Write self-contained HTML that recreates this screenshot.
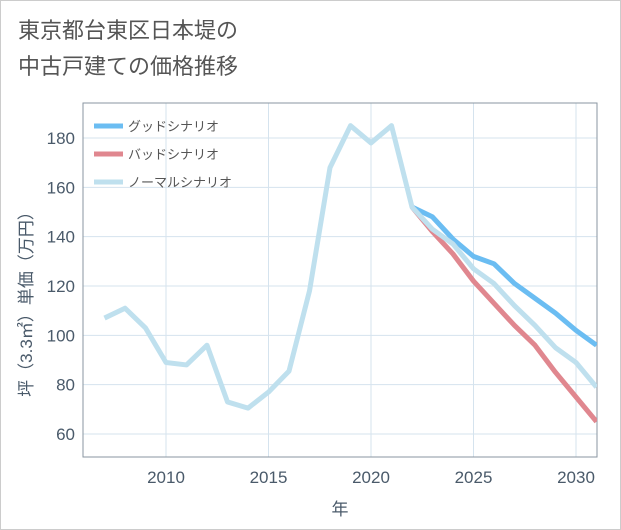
<!DOCTYPE html>
<html><head><meta charset="utf-8"><style>
body{margin:0;background:#fff;}
#w{position:relative;width:619px;height:528px;border:1px solid #ccc;background:#fff;font-family:"Liberation Sans","Noto Sans CJK JP",sans-serif;}
h1{position:absolute;left:17px;top:12px;margin:0;font-size:22px;font-weight:normal;color:#555;line-height:36px;}
</style></head><body>
<div id="w">
<h1>東京都台東区日本堤の<br>中古戸建ての価格推移</h1>
<svg id="c" width="621" height="530" style="position:absolute;left:-1px;top:-1px"></svg>
</div>
<script>
const years=[2007,2008,2009,2010,2011,2012,2013,2014,2015,2016,2017,2018,2019,2020,2021,2022,2023,2024,2025,2026,2027,2028,2029,2030,2031];
const normal=[107,111,103,89,88,96,73,70.5,77,85.5,118,168,185,178,185,152,143,137,127,121,112,104,95,89,79];
const futureYears=[2022,2023,2024,2025,2026,2027,2028,2029,2030,2031];
const good=[152,148,139,132,129,121,115,109,102,96];
const bad=[152,142,133,122,113,104,96,85,75,65];
const yTicks=[60,80,100,120,140,160,180];
const xTicks=[2010,2015,2020,2025,2030];
const L=83,R=597,T=103,B=457;
const X=y=>166+(y-2010)*20.5, Y=v=>434-(v-60)*2.4667;
const s=document.getElementById('c');const NS='http://www.w3.org/2000/svg';
function mk(t,a,p){const e=document.createElementNS(NS,t);for(const k in a)e.setAttribute(k,a[k]);(p||s).appendChild(e);return e;}
const cp=mk('clipPath',{id:'cl'});mk('rect',{x:L,y:T,width:R-L,height:B-T},cp);
yTicks.forEach(v=>{const l=mk('line',{x1:L,x2:R,y1:Y(v),y2:Y(v),stroke:'#d5e3ee','stroke-width':1});

const t=mk('text',{x:L-8,y:Y(v)+6,'text-anchor':'end','font-size':17,fill:'#4a5a6a'});t.textContent=v;
});
xTicks.forEach(v=>{const l=mk('line',{x1:X(v),x2:X(v),y1:T,y2:B,stroke:'#d5e3ee','stroke-width':1});

const t=mk('text',{x:X(v),y:B+26,'text-anchor':'middle','font-size':17,fill:'#4a5a6a'});t.textContent=v;
});
const ax=mk('path',{d:`M${L},${T}V${B}H${R}V${T}Z`,fill:'none',stroke:'#8a96a0','stroke-width':1});

function line(xs,vs,c,n){const p=mk('polyline',{points:xs.map((y,i)=>X(y)+','+Y(vs[i])).join(' '),fill:'none',stroke:c,'stroke-width':5,'stroke-linejoin':'round','clip-path':'url(#cl)'});
}
line(futureYears,bad,'#e0878f','bad-scenario-line');
line(futureYears,good,'#6bbdf2','good-scenario-line');
line(years,normal,'#bfe0ee','normal-scenario-line');
[['グッドシナリオ','#6bbdf2'],['バッドシナリオ','#e0878f'],['ノーマルシナリオ','#bfe0ee']].forEach((d,i)=>{
const y=126+i*28;const g=mk('g',{});
mk('line',{x1:94,x2:123,y1:y,y2:y,stroke:d[1],'stroke-width':5},g);
const t=mk('text',{x:128,y:y+5,'font-size':13,fill:'#555'},g);t.textContent=d[0];});
const yt=mk('text',{transform:'translate(32,300) rotate(-90)','text-anchor':'middle','font-size':17,fill:'#4a5a6a'});yt.textContent='坪（3.3㎡）単価（万円）';

const xt=mk('text',{x:340,y:515,'text-anchor':'middle','font-size':17,fill:'#4a5a6a'});xt.textContent='年';

</script></body></html>
